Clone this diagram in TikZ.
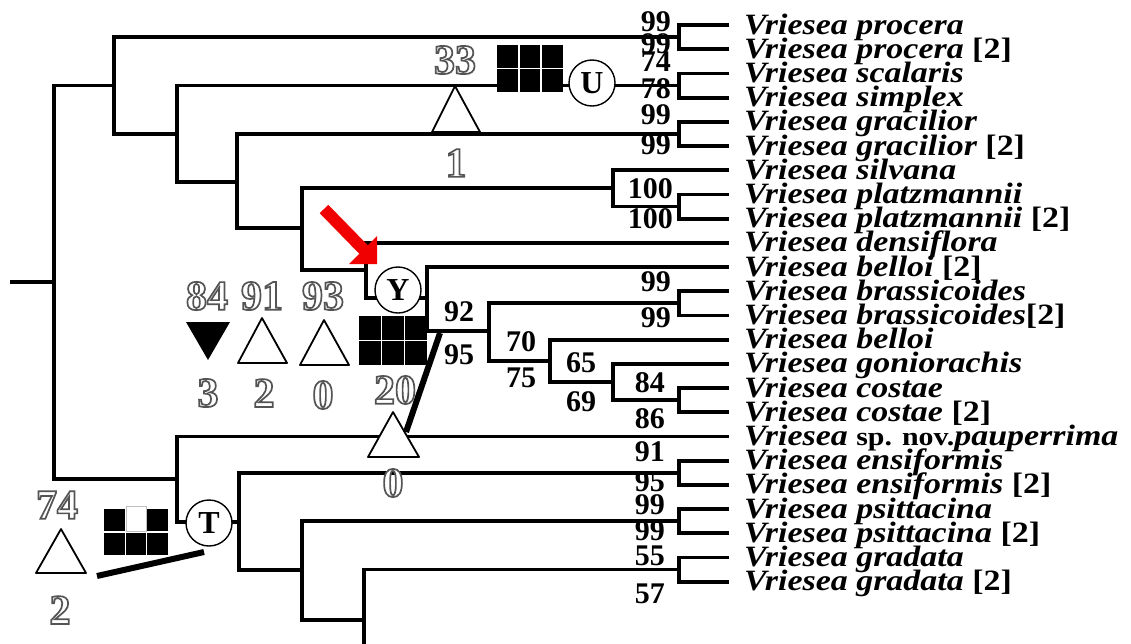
\documentclass[tikz,border=0pt]{standalone}
\usepackage{fontspec}
\setmainfont{Liberation Serif}
\newfontfamily\leaffont[FakeStretch=1.15]{Liberation Serif}
\definecolor{arrowred}{RGB}{240,0,0}
\newcommand\hollow[1]{{\color{white}\special{pdf:literal direct 0.33 G 1.7 w 2 Tr}#1\special{pdf:literal direct 0 Tr}}}
\newcommand\spnov{{\upshape\fontsize{26}{26}\selectfont sp. nov.}}
\begin{document}
\begin{tikzpicture}[x=1pt,y=-1pt,
  br/.style={line width=3.8pt,line cap=rect,line join=miter},
  leaf/.style={anchor=base west,inner sep=0pt,font=\leaffont\fontsize{29.5}{29.5}\selectfont\bfseries\itshape},
  bs/.style={anchor=east,inner sep=0pt,font=\fontsize{30}{30}\selectfont\bfseries},
  bc/.style={inner sep=0pt,font=\fontsize{30}{30}\selectfont\bfseries},
  hol/.style={inner sep=0pt,font=\fontsize{42}{42}\selectfont\bfseries},
  circ/.style={circle,draw,line width=1.4pt,fill=white,minimum size=46pt,inner sep=0pt,font=\fontsize{32}{32}\selectfont\bfseries},
  tri/.style={draw,line width=1.8pt,fill=white,line join=round},
  thick diag/.style={line width=6pt},
  sq/.style={fill=black},
  sqgap/.style={draw=white,line width=1.3pt}
]
\fill[white] (0,0) rectangle (1131,643);
\useasboundingbox (0,0) rectangle (1131,643);
\begin{scope}
\clip (0,0) rectangle (1131,643);
% leaf ends
\foreach \i in {0,...,23} \coordinate (L\i) at (727,{25+24.2*\i});
% pair brackets
\coordinate (P0) at (679,37.1);
\coordinate (P1) at (679,85.5);
\coordinate (P2) at (679,133.9);
\coordinate (P3) at (679,206.5);
\coordinate (P4) at (679,303.3);
\coordinate (P5) at (679,400.1);
\coordinate (P6) at (679,472.7);
\coordinate (P7) at (679,521.1);
\coordinate (P8) at (679,569.5);
\foreach \p/\a/\b in {P0/0/1,P1/2/3,P2/4/5,P3/7/8,P4/11/12,P5/15/16,P6/18/19,P7/20/21,P8/22/23}
  {\draw[br] (\p) |- (L\a); \draw[br] (\p) |- (L\b);}
% internal nodes
\coordinate (stub) at (12,282);
\coordinate (root) at (54,282);
\coordinate (nA) at (114,85.5);
\coordinate (nB) at (177,479);
\coordinate (nC) at (177,134);
\coordinate (nD) at (237,182);
\coordinate (nE) at (302,228);
\coordinate (nF) at (613,188);
\coordinate (nG) at (366,270);
\coordinate (nY) at (427,298);
\coordinate (nH) at (489,331);
\coordinate (nI) at (550,361);
\coordinate (nJ) at (613,382);
\coordinate (nT) at (239,522);
\coordinate (nK) at (302,570);
\coordinate (nL) at (364,620);
\coordinate (cut) at (364,660);
\draw[br] (stub) -- (root);
\draw[br] (root) |- (nA);
\draw[br] (root) |- (nB);
\draw[br] (nA) |- (P0);
\draw[br] (nA) |- (nC);
\draw[br] (nC) |- (P1);
\draw[br] (nC) |- (nD);
\draw[br] (nD) |- (P2);
\draw[br] (nD) |- (nE);
\draw[br] (nE) |- (nF);
\draw[br] (nE) |- (nG);
\draw[br] (nF) |- (L6);
\draw[br] (nF) |- (P3);
\draw[br] (nG) |- (L9);
\draw[br] (nG) |- (nY);
\draw[br] (nY) |- (L10);
\draw[br] (nY) |- (nH);
\draw[br] (nH) |- (P4);
\draw[br] (nH) |- (nI);
\draw[br] (nI) |- (L13);
\draw[br] (nI) |- (nJ);
\draw[br] (nJ) |- (L14);
\draw[br] (nJ) |- (P5);
\draw[br] (nB) |- (L17);
\draw[br] (nB) |- (nT);
\draw[br] (nT) |- (P6);
\draw[br] (nT) |- (nK);
\draw[br] (nK) |- (P7);
\draw[br] (nK) |- (nL);
\draw[br] (nL) |- (P8);
\draw[br] (nL) -- (cut);
\end{scope}

% leaf names
\node[leaf] (t0) at (744,34.0) {Vriesea procera};
\node[leaf] (t1) at (744,58.2) {Vriesea procera {\upshape [2]}};
\node[leaf] (t2) at (744,82.4) {Vriesea scalaris};
\node[leaf] (t3) at (744,106.6) {Vriesea simplex};
\node[leaf] (t4) at (744,130.8) {Vriesea gracilior};
\node[leaf] (t5) at (744,155.0) {Vriesea gracilior {\upshape [2]}};
\node[leaf] (t6) at (744,179.2) {Vriesea silvana};
\node[leaf] (t7) at (744,203.4) {Vriesea platzmannii};
\node[leaf] (t8) at (744,227.6) {Vriesea platzmannii {\upshape [2]}};
\node[leaf] (t9) at (744,251.8) {Vriesea densiflora};
\node[leaf] (t10) at (744,276.0) {Vriesea belloi {\upshape [2]}};
\node[leaf] (t11) at (744,300.2) {Vriesea brassicoides};
\node[leaf] (t12) at (744,324.4) {Vriesea brassicoides{\upshape [2]}};
\node[leaf] (t13) at (744,348.6) {Vriesea belloi};
\node[leaf] (t14) at (744,372.8) {Vriesea goniorachis};
\node[leaf] (t15) at (744,397.0) {Vriesea costae};
\node[leaf] (t16) at (744,421.2) {Vriesea costae {\upshape [2]}};
\node[leaf] (t17) at (744,445.4) {Vriesea \spnov pauperrima};
\node[leaf] (t18) at (744,469.6) {Vriesea ensiformis};
\node[leaf] (t19) at (744,493.8) {Vriesea ensiformis {\upshape [2]}};
\node[leaf] (t20) at (744,518.0) {Vriesea psittacina};
\node[leaf] (t21) at (744,542.2) {Vriesea psittacina {\upshape [2]}};
\node[leaf] (t22) at (744,566.4) {Vriesea gradata};
\node[leaf] (t23) at (744,590.6) {Vriesea gradata {\upshape [2]}};

% support values at terminal pairs
\node[bs] (b0a) at (671,22) {99};
\node[bs] (b0b) at (671,44) {99};
\node[bs] (b1a) at (671,62) {74};
\node[bs] (b1b) at (671,89) {78};
\node[bs] (b2a) at (671,115) {99};
\node[bs] (b2b) at (671,145) {99};
\node[bs] (b3a) at (673,189) {100};
\node[bs] (b3b) at (673,219) {100};
\node[bs] (b4a) at (671,282) {99};
\node[bs] (b4b) at (671,318) {99};
\node[bs] (b5a) at (665,383) {84};
\node[bs] (b5b) at (665,419) {86};
\node[bs] (b6a) at (665,452) {91};
\node[bs] (b6b) at (665,482) {95};
\node[bs] (b7a) at (665,505) {99};
\node[bs] (b7b) at (665,531) {99};
\node[bs] (b8a) at (665,556) {55};
\node[bs] (b8b) at (665,594) {57};
% support values at inner nodes
\node[bc] (bHa) at (459,312) {92};
\node[bc] (bHb) at (459,355) {95};
\node[bc] (bIa) at (521,342) {70};
\node[bc] (bIb) at (521,378) {75};
\node[bc] (bJa) at (581,363) {65};
\node[bc] (bJb) at (581,402) {69};

% triangles
\draw[tri] (455,86) -- (432,132) -- (480,132) -- cycle;
\fill[black,line join=round] (186,322) -- (230,322) -- (208,360) -- cycle;
\draw[tri] (262,318) -- (238,363) -- (287,363) -- cycle;
\draw[tri] (324,320) -- (300,365) -- (349,365) -- cycle;
\draw[tri] (393,412) -- (368,457) -- (419,457) -- cycle;
\draw[tri] (61,529) -- (36,573) -- (86,573) -- cycle;
% thick bars
\draw[thick diag] (440,333) -- (406,432);
\draw[thick diag] (97,576) -- (204,552);

% hollow numbers
\node[hol] (h33) at (455,60) {\hollow{33}};
\node[hol] (h1) at (456,163) {\hollow{1}};
\node[hol] (h84) at (207,296) {\hollow{84}};
\node[hol] (h91) at (262,296) {\hollow{91}};
\node[hol] (h93) at (323,296) {\hollow{93}};
\node[hol] (h3) at (208,393) {\hollow{3}};
\node[hol] (h2) at (264,393) {\hollow{2}};
\node[hol] (h0) at (323,395) {\hollow{0}};
\node[hol] (h20) at (395,390) {\hollow{20}};
\node[hol] (h0b) at (393,483) {\hollow{0}};
\node[hol] (h74) at (57,505) {\hollow{74}};
\node[hol] (h2b) at (60,610) {\hollow{2}};

% square blocks
\fill[sq] (497,45) rectangle (563,92);
\draw[sqgap] (519,45) -- (519,92) (541,45) -- (541,92) (497,68.5) -- (563,68.5);
\fill[sq] (359,316) rectangle (427,365);
\draw[sqgap] (381.7,316) -- (381.7,365) (404.3,316) -- (404.3,365) (359,340.5) -- (427,340.5);
\fill[sq] (104,509) rectangle (168,555);
\draw[sqgap] (125.3,509) -- (125.3,555) (146.7,509) -- (146.7,555) (104,532) -- (168,532);
\filldraw[fill=white,draw=gray!50,line width=0.8pt] (126,506) rectangle (146,531);

% node circles
\node[circ] (U) at (592,83) {U};
\node[circ] (Y) at (398,290) {Y};
\node[circ] (T) at (209,523) {T};

% red arrow
\draw[arrowred,line width=12pt] (324,209) -- (364,250);
\fill[arrowred] (377,264) -- (349,264) -- (377,236) -- cycle;
\end{tikzpicture}
\end{document}
